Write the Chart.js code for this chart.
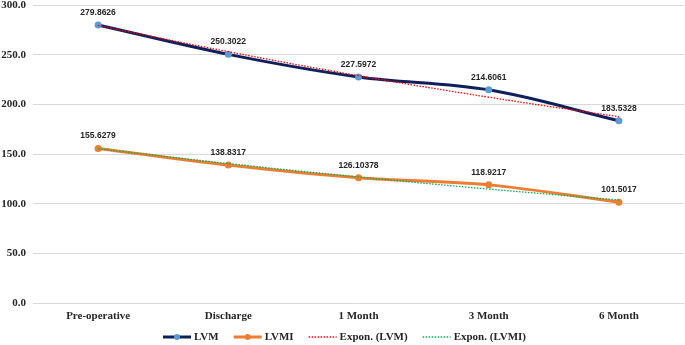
<!DOCTYPE html>
<html><head><meta charset="utf-8">
<script src="https://cdn.jsdelivr.net/npm/chart.js@4"></script>
<style>html,body{margin:0;padding:0;background:#fff;}</style>
</head><body>
<canvas id="c" width="685" height="345"></canvas>
<script>
const categories = ['Pre-operative', 'Discharge', '1 Month', '3 Month', '6 Month'];
const lvm = [279.8626, 250.3022, 227.5972, 214.6061, 183.5328];
const lvmi = [155.6279, 138.8317, 126.10378, 118.9217, 101.5017];
const lvmLabels = ['279.8626', '250.3022', '227.5972', '214.6061', '183.5328'];
const lvmiLabels = ['155.6279', '138.8317', '126.10378', '118.9217', '101.5017'];
const expLvm = [279.4, 253.0, 228.9, 207.2, 187.5];
const expLvmi = [155.3, 140.4, 126.9, 114.7, 103.7];
const yTicks = [0, 50, 100, 150, 200, 250, 300];
const legendNames = ['LVM', 'LVMI', 'Expon. (LVM)', 'Expon. (LVMI)'];

const NAVY = '#0F1F5C', LBLUE = '#5B9BD5', ORANGE = '#ED7D31', RED = '#FF0000', GREEN = '#00B050';
const TXT = '#262626';

const dataLabels = {
  id: 'dataLabels',
  afterDatasetsDraw(chart) {
    const ctx = chart.ctx;
    ctx.save();
    ctx.font = 'bold 8.5px "Liberation Sans", Arial, sans-serif';
    ctx.fillStyle = '#262626';
    ctx.textAlign = 'center';
    ctx.textBaseline = 'middle';
    [[0, lvmLabels], [1, lvmiLabels]].forEach(([i, labs]) => {
      chart.getDatasetMeta(i).data.forEach((pt, j) => {
        ctx.fillText(labs[j], pt.x, pt.y - 12.5);
      });
    });
    ctx.restore();
  }
};

const customLegend = {
  id: 'customLegend',
  afterDraw(chart) {
    const ctx = chart.ctx;
    const styles = [
      {color: NAVY, w: 3, dash: [], point: LBLUE},
      {color: ORANGE, w: 3, dash: [], point: ORANGE},
      {color: RED, w: 1.3, dash: [1.5, 1.5], point: null},
      {color: GREEN, w: 1.3, dash: [1.5, 1.5], point: null}
    ];
    ctx.save();
    ctx.font = 'bold 11px "Liberation Serif", "Times New Roman", serif';
    const lineW = 28, gapT = 3, gapI = 15;
    const widths = legendNames.map(n => lineW + gapT + ctx.measureText(n).width);
    const total = widths.reduce((a, b) => a + b, 0) + gapI * (legendNames.length - 1);
    let x = chart.width / 2 + 2 - total / 2;
    const y = 337;
    legendNames.forEach((name, i) => {
      const s = styles[i];
      ctx.strokeStyle = s.color;
      ctx.lineWidth = s.w;
      ctx.setLineDash(s.dash);
      ctx.beginPath();
      ctx.moveTo(x, y);
      ctx.lineTo(x + lineW, y);
      ctx.stroke();
      ctx.setLineDash([]);
      if (s.point) {
        ctx.fillStyle = s.point;
        ctx.beginPath();
        ctx.arc(x + lineW / 2, y, 3, 0, Math.PI * 2);
        ctx.fill();
      }
      ctx.fillStyle = TXT;
      ctx.textAlign = 'left';
      ctx.textBaseline = 'middle';
      ctx.fillText(name, x + lineW + gapT, y);
      x += widths[i] + gapI;
    });
    ctx.restore();
  }
};

new Chart(document.getElementById('c'), {
  type: 'line',
  data: {
    labels: categories,
    datasets: [
      {label: legendNames[0], data: lvm, borderColor: NAVY, borderWidth: 3, tension: 0.35,
       pointRadius: 3.5, pointBackgroundColor: LBLUE, pointBorderColor: LBLUE, pointBorderWidth: 0, order: 2, clip: false},
      {label: legendNames[1], data: lvmi, borderColor: ORANGE, borderWidth: 3, tension: 0.35,
       pointRadius: 3.5, pointBackgroundColor: ORANGE, pointBorderColor: ORANGE, pointBorderWidth: 0, order: 2, clip: false},
      {label: legendNames[2], data: expLvm, borderColor: RED, borderWidth: 1.3, borderDash: [1.5, 1.5],
       tension: 0.4, pointRadius: 0, order: 1, clip: false},
      {label: legendNames[3], data: expLvmi, borderColor: GREEN, borderWidth: 1.3, borderDash: [1.5, 1.5],
       tension: 0.4, pointRadius: 0, order: 1, clip: false}
    ]
  },
  options: {
    responsive: false,
    devicePixelRatio: 1,
    animation: false,
    layout: {autoPadding: false, padding: {left: 0, right: 1, top: 0, bottom: 22}},
    plugins: {legend: {display: false}, tooltip: {enabled: false}},
    scales: {
      x: {
        offset: true,
        grid: {display: false, drawTicks: false},
        border: {display: false},
        afterFit: s => { s.height = 20; },
        ticks: {padding: 7, color: TXT, font: {family: '"Liberation Serif", serif', weight: 'bold', size: 11}}
      },
      y: {
        min: 0, max: 300,
        afterFit: s => { s.width = 33; s.paddingTop = 5; s.paddingBottom = 5; },
        afterBuildTicks: s => { s.ticks = yTicks.map(v => ({value: v})); },
        grid: {color: '#D9D9D9', lineWidth: 1, drawTicks: false},
        border: {display: false},
        ticks: {padding: 7, color: TXT, callback: v => Number(v).toFixed(1),
                font: {family: '"Liberation Serif", serif', weight: 'bold', size: 11, lineHeight: 0.9}}
      }
    }
  },
  plugins: [dataLabels, customLegend]
});
</script>
</body></html>
